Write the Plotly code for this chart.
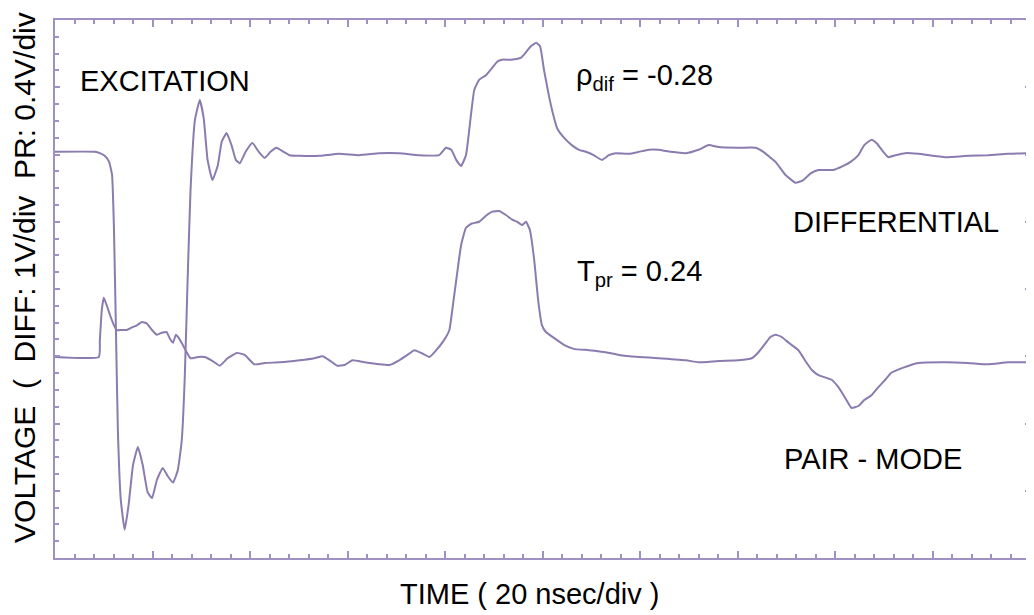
import plotly.graph_objects as go

# Time axis in ns (20 ns/div, 10 divisions); vertical in screen divisions (8 divisions)
diff_t = [0, 8.2, 9.2, 10.2, 11.1, 11.7, 12.1, 12.5, 12.9, 13.5, 14.3, 15.1, 16.0, 17.0, 18.0, 19.0,
          19.9, 20.9, 22.1, 23.1, 24.2, 25.2, 26.0, 26.6, 27.2, 27.8, 28.7, 29.7, 30.5, 31.3, 32.3,
          33.4, 34.2, 35.2, 36.2, 37.1, 37.9, 39.1, 40.5, 41.8, 43.0, 44.2, 45.4, 46.9, 48.1, 50.2,
          54.2, 58.3, 62.4, 66.5, 70.6, 74.7, 78.8, 80.2, 81.3, 82.3, 83.3, 84.3, 85.2, 86.0, 87.0,
          88.4, 89.7, 90.7, 91.7, 93.6, 95.6, 96.6, 97.6, 98.7, 99.5, 100.3, 101.3, 102.2, 103.0,
          104.4, 106.0, 107.5, 108.9, 110.5, 112.2, 113.6, 115.0, 117.7, 119.8, 121.8, 123.8, 126.3,
          129.4, 132.0, 134.1, 136.1, 140.2, 143.7, 145.3, 146.8, 147.8, 149.8, 151.9, 153.5, 155.0,
          156.6, 159.7, 161.7, 163.2, 164.8, 166.0, 167.5, 168.5, 169.9, 170.9, 172.4, 174.4, 177.1,
          182.6, 187.3, 191.4, 195.5, 200.0]
diff_v = [6.04, 6.04, 6.02, 5.98, 5.89, 5.70, 4.88, 3.39, 1.90, 0.86, 0.42, 0.79, 1.38, 1.65, 1.38, 0.98,
          0.89, 1.16, 1.34, 1.22, 1.12, 1.31, 1.75, 2.65, 4.13, 5.47, 6.51, 6.81, 6.54, 5.92, 5.62,
          5.84, 6.19, 6.32, 6.14, 5.92, 5.87, 6.04, 6.17, 6.04, 5.95, 6.04, 6.10, 6.04, 5.99, 5.98,
          5.98, 6.01, 5.99, 6.02, 6.02, 5.99, 5.99, 6.10, 6.07, 5.92, 5.83, 5.99, 6.51, 6.96, 7.11,
          7.18, 7.29, 7.38, 7.41, 7.41, 7.44, 7.52, 7.61, 7.66, 7.61, 7.26, 6.88, 6.59, 6.39,
          6.25, 6.14, 6.07, 6.04, 5.99, 5.92, 5.99, 6.02, 6.01, 6.04, 6.07, 6.07, 6.04,
          6.02, 6.07, 6.14, 6.11, 6.10, 6.10, 6.04, 5.95, 5.89, 5.70, 5.58, 5.62, 5.72,
          5.77, 5.77, 5.83, 5.89, 5.99, 6.14, 6.22, 6.17, 6.04, 5.96, 5.99, 6.02, 6.01,
          5.96, 5.98, 5.99, 6.01, 6.02]

pair_t = [0, 9.0, 9.2, 9.6, 10.0, 10.6, 11.3, 12.1, 12.7, 13.7, 14.7, 15.8, 16.8, 17.8, 18.8, 19.9,
          20.9, 21.9, 22.9, 23.5, 24.2, 24.8, 25.4, 26.2, 27.0, 27.8, 29.3, 30.7, 32.1, 33.8, 35.4,
          37.3, 38.9, 40.9, 43.0, 46.1, 50.2, 53.2, 54.9, 56.3, 57.9, 59.4, 61.0, 63.5, 66.5, 68.6,
          70.6, 72.3, 73.7, 75.1, 76.8, 78.2, 79.8, 80.9, 81.5, 82.3, 83.3, 84.3, 85.4, 87.0, 88.4,
          89.7, 91.1, 92.5, 93.8, 94.8, 95.8, 96.6, 97.4, 98.3, 99.1, 99.9, 100.7, 102.4, 104.4,
          106.4, 109.5, 113.0, 115.7, 119.8, 123.8, 129.4, 132.0, 136.1, 140.2, 142.9, 144.3, 145.8,
          146.8, 147.8, 149.0, 150.5, 152.5, 154.1, 155.2, 156.6, 159.3, 160.7, 162.1, 163.4, 164.8,
          166.0, 167.5, 168.9, 170.3, 171.5, 174.0, 177.1, 182.6, 187.3, 191.4, 195.5, 200.0]
pair_v = [2.99, 2.99, 3.24, 3.69, 3.87, 3.76, 3.61, 3.46, 3.39, 3.39, 3.39, 3.43, 3.46, 3.51, 3.49, 3.39,
          3.32, 3.35, 3.36, 3.27, 3.20, 3.32, 3.27, 3.17, 3.06, 2.97, 2.99, 2.99, 2.94, 2.86, 2.97,
          3.05, 3.02, 2.88, 2.90, 2.91, 2.94, 2.97, 3.00, 2.94, 2.86, 2.87, 2.94, 2.91, 2.88, 2.87,
          2.94, 3.02, 3.09, 3.05, 2.99, 3.09, 3.24, 3.39, 3.69, 4.13, 4.65, 4.91, 4.97, 5.00, 5.09,
          5.15, 5.16, 5.10, 5.03, 5.00, 4.95, 5.00, 4.88, 4.43, 3.84, 3.46, 3.36, 3.27, 3.17,
          3.11, 3.09, 3.06, 3.02, 2.99, 2.97, 2.94, 2.91, 2.93, 2.94, 2.97, 3.06, 3.20,
          3.29, 3.32, 3.29, 3.20, 3.09, 2.91, 2.80, 2.72, 2.65, 2.54, 2.38, 2.23, 2.26,
          2.35, 2.42, 2.54, 2.65, 2.75, 2.83, 2.90, 2.91, 2.90, 2.88, 2.91, 2.91]

labels = ["EXCITATION", "ρ<sub>dif</sub> = -0.28", "DIFFERENTIAL", "T<sub>pr</sub> = 0.24", "PAIR - MODE"]
label_t = [4.8, 106.5, 151.0, 106.7, 149.2]
label_v = [7.09, 7.15, 4.99, 4.24, 1.47]

NB = "\u00a0"
x_title = "TIME ( 20 nsec/div )"
y_title = "VOLTAGE" + NB * 2 + "(" + NB * 2 + "DIFF: 1V/div" + NB * 2 + "PR: 0.4V/div"

trace_color = "#8a7cae"
frame_color = "#a091c4"
font_family = "Liberation Sans, Arial, sans-serif"

fig = go.Figure()
fig.add_trace(go.Scatter(x=diff_t, y=diff_v, mode="lines", name="DIFFERENTIAL",
                         line=dict(color=trace_color, width=2, shape="spline", smoothing=0.4)))
fig.add_trace(go.Scatter(x=pair_t, y=pair_v, mode="lines", name="PAIR - MODE",
                         line=dict(color=trace_color, width=2, shape="spline", smoothing=0.4)))

for txt, tx, ty in zip(labels, label_t, label_v):
    fig.add_annotation(x=tx, y=ty, xref="x", yref="y", text=txt, showarrow=False,
                       xanchor="left", yanchor="middle",
                       font=dict(family=font_family, size=29, color="black"))

# Axis titles placed as paper-anchored annotations for exact placement
fig.add_annotation(x=0.487, y=-0.066, xref="paper", yref="paper", text=x_title,
                   showarrow=False, xanchor="center", yanchor="middle",
                   font=dict(family=font_family, size=29, color="black"))
fig.add_annotation(x=-0.032, y=0.522, xref="paper", yref="paper", text=y_title,
                   showarrow=False, xanchor="center", yanchor="middle", textangle=-90,
                   font=dict(family=font_family, size=30, color="black"))

# The page body adds an 8 px offset, so the figure is sized to fit the 1034x615 window.
fig.update_layout(
    width=1026, height=607,
    margin=dict(l=47, r=2, t=12, b=57),
    paper_bgcolor="white", plot_bgcolor="white",
    showlegend=False,
    font=dict(family=font_family, color="black"),
)
fig.update_xaxes(
    range=[0, 200], showgrid=False, zeroline=False, showticklabels=False,
    showline=True, linecolor=frame_color, linewidth=2, mirror="ticks",
    ticks="inside", dtick=20, tick0=0, ticklen=7, tickcolor=frame_color, tickwidth=1.5,
    minor=dict(dtick=4, ticks="inside", ticklen=4, tickcolor=frame_color, showgrid=False),
)
fig.update_yaxes(
    range=[0, 8], showgrid=False, zeroline=False, showticklabels=False,
    showline=True, linecolor=frame_color, linewidth=2, mirror="ticks",
    ticks="inside", dtick=1, tick0=0, ticklen=5, tickcolor=frame_color, tickwidth=1.5,
    minor=dict(dtick=0.25, ticks="inside", ticklen=4, tickcolor=frame_color, showgrid=False),
)

fig.write_html("out.html")
